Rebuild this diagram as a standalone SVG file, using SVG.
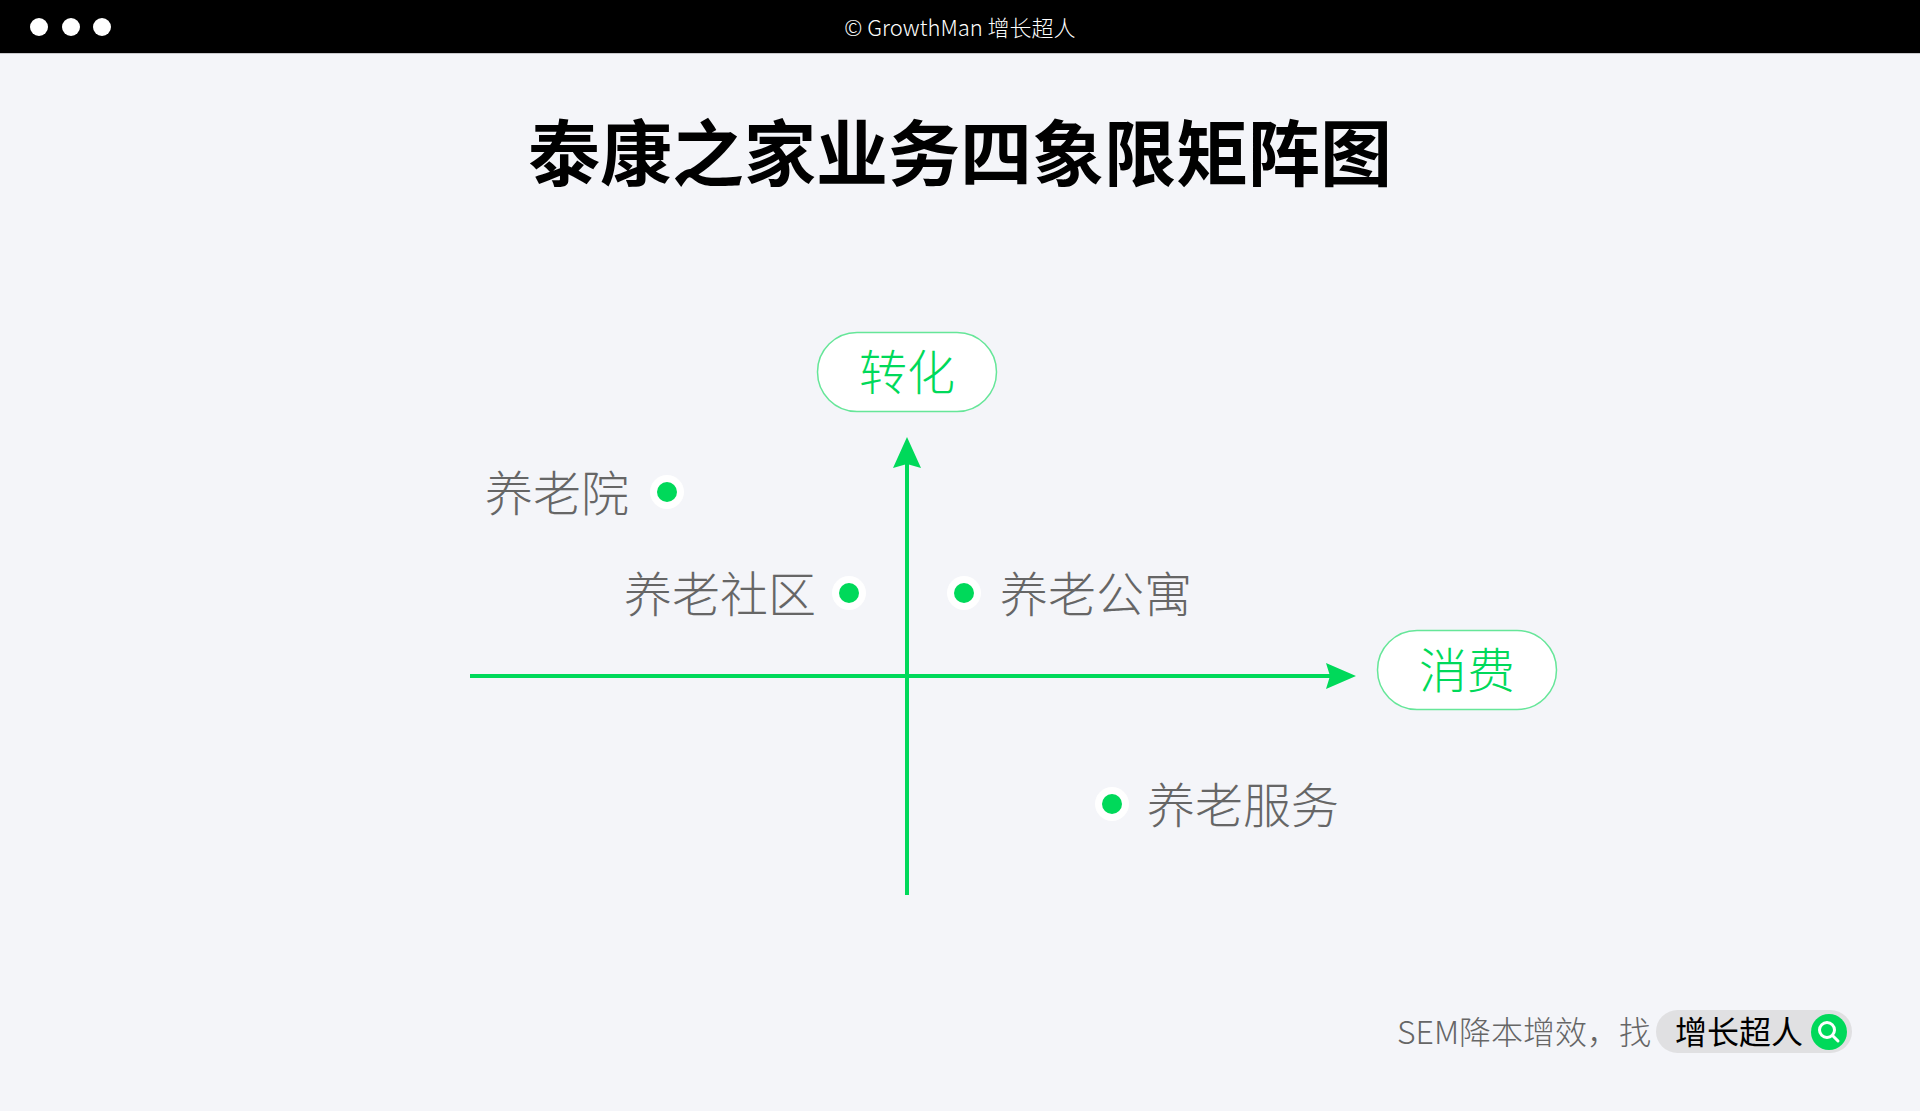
<svg xmlns="http://www.w3.org/2000/svg" width="1920" height="1111" viewBox="0 0 1920 1111">
  <style>
    .cjk { font-family: "Noto Sans CJK SC", "Noto Sans", sans-serif; }
    .light { font-weight: 300; }
    .label { font-size: 48px; fill: #666666; font-weight: 300; }
    .axislabel { font-size: 48px; fill: #00D95A; text-anchor: middle; font-weight: 300; }
    .pill { fill: #ffffff; stroke: #66E699; stroke-width: 1.5; }
    .ring { fill: #ffffff; }
    .dot { fill: #00D95A; }
    .axis { stroke: #00D95A; stroke-width: 4; fill: none; }
    .head { fill: #00D95A; }
  </style>
  <rect x="0" y="0" width="1920" height="1111" fill="#F4F5F9"/>
  <g id="header">
    <rect x="0" y="0" width="1920" height="53" fill="#000000"/>
    <rect x="0" y="53" width="1920" height="1" fill="#C8C8CC"/>
    <circle cx="39" cy="27" r="9" fill="#ffffff"/>
    <circle cx="71" cy="27" r="9" fill="#ffffff"/>
    <circle cx="102" cy="27" r="9" fill="#ffffff"/>
    <text class="cjk light" x="960" y="36" font-size="22" fill="#ffffff" text-anchor="middle">© GrowthMan 增长超人</text>
  </g>
  <g id="title">
    <text class="cjk" x="960" y="180" font-size="72" font-weight="bold" fill="#000000" text-anchor="middle">泰康之家业务四象限矩阵图</text>
  </g>
  <g id="connectors">
    <line class="axis" x1="907" y1="895" x2="907" y2="462"/>
    <path class="head" d="M907 437 L921 468 L907 464 L893 468 Z"/>
    <line class="axis" x1="470" y1="676" x2="1332" y2="676"/>
    <path class="head" d="M1356 676 L1326 663 L1330 676 L1326 689 Z"/>
  </g>
  <g id="axis-y">
    <rect class="pill" x="817.5" y="332.5" width="179" height="79" rx="39.5"/>
    <text class="cjk axislabel" x="907" y="390">转化</text>
  </g>
  <g id="axis-x">
    <rect class="pill" x="1377.5" y="630.5" width="179" height="79" rx="39.5"/>
    <text class="cjk axislabel" x="1467" y="688">消费</text>
  </g>
  <g id="node-yanglaoyuan">
    <circle class="ring" cx="667" cy="492" r="17"/>
    <circle class="dot" cx="667" cy="492" r="10"/>
    <text class="cjk label" x="485" y="511">养老院</text>
  </g>
  <g id="node-yanglaoshequ">
    <circle class="ring" cx="849" cy="593" r="17"/>
    <circle class="dot" cx="849" cy="593" r="10"/>
    <text class="cjk label" x="624" y="612">养老社区</text>
  </g>
  <g id="node-yanglaogongyu">
    <circle class="ring" cx="964" cy="593" r="17"/>
    <circle class="dot" cx="964" cy="593" r="10"/>
    <text class="cjk label" x="1000" y="612">养老公寓</text>
  </g>
  <g id="node-yanglaofuwu">
    <circle class="ring" cx="1112" cy="804" r="17"/>
    <circle class="dot" cx="1112" cy="804" r="10"/>
    <text class="cjk label" x="1147" y="823">养老服务</text>
  </g>
  <g id="footer">
    <text class="cjk light" x="1397" y="1044" font-size="32" fill="#666666">SEM降本增效，找</text>
    <rect x="1656" y="1010" width="196" height="43" rx="21.5" fill="#E0E0E2"/>
    <text class="cjk" x="1675" y="1044" font-size="32" fill="#000000">增长超人</text>
    <circle cx="1829" cy="1032" r="18" fill="#00D95A"/>
    <circle cx="1827" cy="1030" r="7.5" fill="none" stroke="#ffffff" stroke-width="3"/>
    <line x1="1832.5" y1="1035.5" x2="1838" y2="1041" stroke="#ffffff" stroke-width="3" stroke-linecap="round"/>
  </g>
</svg>
